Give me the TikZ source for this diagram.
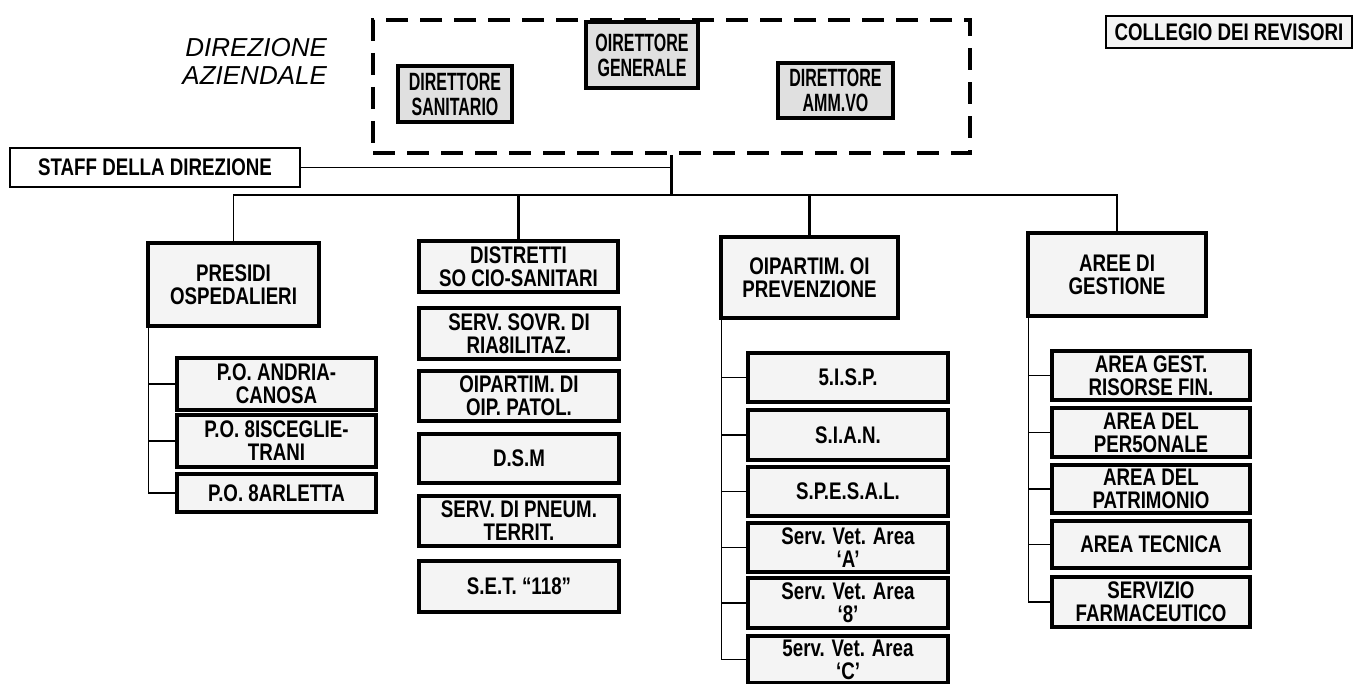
\documentclass[tikz,border=0pt]{standalone}
\usepackage{fontspec}
\setmainfont{Liberation Sans}
\newfontfamily\cond[FakeStretch=0.78]{Liberation Sans}
\newfontfamily\condd[FakeStretch=0.64]{Liberation Sans}
\newcommand\bx[7]{\node[#6, minimum width={(#4-#2)*0.5pt}, minimum height={(#5-#3)*0.5pt}] (#1) at ({(#2+#4)/2},{(#3+#5)/2}) {#7};}
\begin{document}
\begin{tikzpicture}[x=0.5pt,y=-0.5pt,
  kid/.style={draw, line width=1.6pt, fill=gray!9, inner sep=0pt, align=center,
    font={\cond\bfseries\fontsize{12}{11.5}\selectfont}},
  dirbox/.style={draw, line width=2pt, fill=gray!24, inner sep=0pt, align=center,
    font={\condd\bfseries\fontsize{12.5}{12.5}\selectfont}},
  thinbox/.style={draw, line width=0.8pt, inner sep=0pt, align=center,
    font={\cond\bfseries\fontsize{12}{11.5}\selectfont}},
  dashbox/.style={draw, line width=2pt, dash pattern=on 11pt off 6pt, inner sep=0pt},
  conn/.style={draw, line width=0.7pt},
  conn2/.style={draw, line width=1.2pt}]
\useasboundingbox (0,0) rectangle (1354,684);

% top
\node[font={\itshape\fontsize{13}{14}\selectfont}, align=right, anchor=east] (dirlab) at (334,61) {DIREZIONE\\AZIENDALE};
\bx{dash}{373}{20}{970}{153}{dashbox}{}
\bx{sanit}{398}{66}{512}{122}{dirbox}{DIRETTORE\\SANITARIO}
\bx{gen}{586}{22}{698}{88}{dirbox}{OIRETTORE\\GENERALE}
\bx{amm}{778}{63}{893}{118}{dirbox}{DIRETTORE\\AMM.VO}
\bx{coll}{1106}{16}{1352}{48}{thinbox,fill=gray!9}{COLLEGIO DEI REVISORI}
\bx{staff}{10}{148}{300}{187}{thinbox,fill=white}{STAFF DELLA DIREZIONE}

\coordinate (bus) at (672,195);
\draw[conn] (staff.east) -- (staff.east -| bus);
\draw[conn2] (dash.south) -- (dash.south |- bus);

% heads
\bx{presidi}{148}{243}{319}{326}{kid}{PRESIDI\\OSPEDALIERI}
\bx{distretti}{419}{241}{618}{292}{kid}{DISTRETTI\\SO CIO-SANITARI}
\bx{prev}{721}{237}{898}{318}{kid}{OIPARTIM. OI\\PREVENZIONE}
\bx{aree}{1028}{233}{1206}{316}{kid}{AREE DI\\GESTIONE}

\draw[conn] (presidi.north) -- (presidi.north |- bus) -- (aree.north |- bus) -- (aree.north);
\draw[conn2] (distretti.north) -- (distretti.north |- bus);
\draw[conn2] (prev.north) -- (prev.north |- bus);

% presidi children
\bx{andria}{177}{358}{376}{410}{kid}{P.O. ANDRIA-\\CANOSA}
\bx{bisceglie}{177}{415}{376}{467}{kid}{P.O. 8ISCEGLIE-\\TRANI}
\bx{barletta}{177}{474}{376}{512}{kid}{P.O. 8ARLETTA}
\coordinate (pt) at ([xshift=1pt]presidi.south west);
\draw[conn] (pt) |- (barletta.west);
\draw[conn] (andria.west) -- (andria.west -| pt);
\draw[conn] (bisceglie.west) -- (bisceglie.west -| pt);

% distretti children
\bx{sovr}{419}{308}{619}{359}{kid}{SERV. SOVR. DI\\RIA8ILITAZ.}
\bx{patol}{419}{371}{619}{421}{kid}{OIPARTIM. DI\\OIP. PATOL.}
\bx{dsm}{419}{434}{619}{483}{kid}{D.S.M}
\bx{pneum}{419}{496}{619}{546}{kid}{SERV. DI PNEUM.\\TERRIT.}
\bx{set}{419}{561}{619}{612}{kid}{S.E.T. “118”}

% prevenzione children
\bx{sisp}{748}{353}{948}{402}{kid}{5.I.S.P.}
\bx{sian}{748}{410}{948}{460}{kid}{S.I.A.N.}
\bx{spesal}{748}{467}{948}{516}{kid}{S.P.E.S.A.L.}
\bx{veta}{748}{523}{948}{572}{kid}{Serv. Vet. Area\\‘A’}
\bx{vetb}{748}{578}{948}{628}{kid}{Serv. Vet. Area\\‘8’}
\bx{vetc}{748}{636}{948}{683}{kid}{5erv. Vet. Area\\‘C’}
\coordinate (pv) at ([xshift=1pt]prev.south west);
\draw[conn] (pv) |- (vetc.west);
\foreach \n in {sisp,sian,spesal,veta,vetb}{\draw[conn] (\n.west) -- (\n.west -| pv);}

% aree children
\bx{gest}{1052}{351}{1250}{400}{kid}{AREA GEST.\\RISORSE FIN.}
\bx{pers}{1052}{408}{1250}{457}{kid}{AREA DEL\\PER5ONALE}
\bx{patr}{1052}{465}{1250}{513}{kid}{AREA DEL\\PATRIMONIO}
\bx{tecn}{1052}{521}{1250}{568}{kid}{AREA TECNICA}
\bx{farm}{1052}{577}{1250}{627}{kid}{SERVIZIO\\FARMACEUTICO}
\coordinate (pa) at ([xshift=1pt]aree.south west);
\draw[conn] (pa) |- (farm.west);
\foreach \n in {gest,pers,patr,tecn}{\draw[conn] (\n.west) -- (\n.west -| pa);}
\end{tikzpicture}
\end{document}
